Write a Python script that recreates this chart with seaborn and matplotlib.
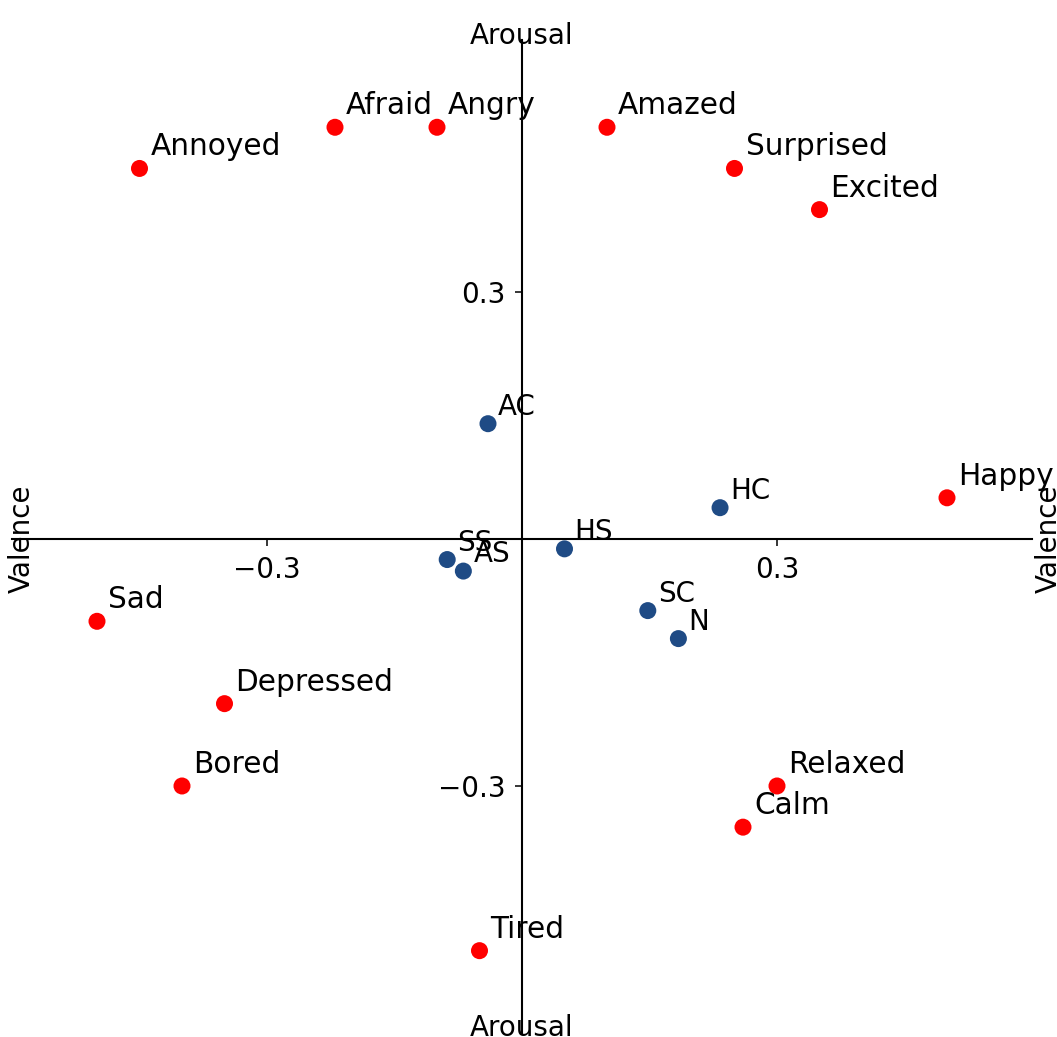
import matplotlib
matplotlib.use("Agg")
import matplotlib.pyplot as plt
import pandas as pd
import seaborn as sns

# Reference emotions on the valence/arousal plane
emotions = ["Annoyed", "Afraid", "Angry", "Amazed", "Surprised", "Excited", "Happy",
            "Sad", "Depressed", "Bored", "Relaxed", "Calm", "Tired"]
emotion_valence = [-0.45, -0.22, -0.10, 0.10, 0.25, 0.35, 0.50,
                   -0.50, -0.35, -0.40, 0.30, 0.26, -0.05]
emotion_arousal = [0.45, 0.50, 0.50, 0.50, 0.45, 0.40, 0.05,
                   -0.10, -0.20, -0.30, -0.30, -0.35, -0.50]

# Experimental conditions
conditions = ["AC", "HC", "HS", "SS", "AS", "SC", "N"]
condition_valence = [-0.04, 0.233, 0.05, -0.088, -0.069, 0.148, 0.184]
condition_arousal = [0.14, 0.038, -0.012, -0.025, -0.039, -0.087, -0.121]

tick_values = [-0.3, 0.3]
tick_labels = ["\u22120.3", "0.3"]

sns.set_style("white")
plt.rcParams["font.family"] = ["DejaVu Sans"]
plt.rcParams["text.color"] = "black"

df = pd.DataFrame({
    "valence": emotion_valence + condition_valence,
    "arousal": emotion_arousal + condition_arousal,
    "label": emotions + conditions,
    "group": ["emotion"] * len(emotions) + ["condition"] * len(conditions),
})

W, H = 1057, 1037
fig = plt.figure(figsize=(W / 100, H / 100), dpi=100)
left_px, right_px, top_px, bottom_px = 12, 1032, 40, 1033
ax = fig.add_axes([left_px / W, (H - bottom_px) / H,
                   (right_px - left_px) / W, (bottom_px - top_px) / H])

palette = {"emotion": "#ff0000", "condition": "#1f4b85"}
sns.scatterplot(data=df, x="valence", y="arousal", hue="group", palette=palette,
                s=150, linewidth=0, legend=False, ax=ax, zorder=3)

for _, row in df.iterrows():
    if row["group"] == "emotion":
        off, fs = (11, 13), 21.3
    else:
        off, fs = (10, 9), 20
    ax.annotate(row["label"], (row["valence"], row["arousal"]),
                xytext=off, textcoords="offset pixels",
                ha="left", va="baseline", fontsize=fs, color="black")

ax.set_xlim(-0.6, 0.6)
ax.set_ylim(-0.6, 0.606)

# Cross-shaped axes through the origin
for side in ("top", "right"):
    ax.spines[side].set_visible(False)
for side in ("left", "bottom"):
    ax.spines[side].set_position(("data", 0))
    ax.spines[side].set_color("black")
    ax.spines[side].set_linewidth(1.5)

ax.set_xticks(tick_values)
ax.set_xticklabels(tick_labels)
ax.set_yticks(tick_values)
ax.set_yticklabels(tick_labels)
ax.tick_params(axis="both", direction="out", length=5, width=1.1,
               labelsize=20, pad=7, colors="black", bottom=True, left=True)
ax.set_xlabel("")
ax.set_ylabel("")

ax.text(0, 0.601, "Arousal", ha="center", va="baseline", fontsize=20, color="black")
ax.text(0, -0.604, "Arousal", ha="center", va="baseline", fontsize=20, color="black")
ax.text(-0.588, 0, "Valence", ha="center", va="center", rotation=90,
        fontsize=20, color="black")
ax.text(0.6195, 0, "Valence", ha="center", va="center", rotation=90,
        fontsize=20, color="black")

fig.savefig("out.png", dpi=100)
